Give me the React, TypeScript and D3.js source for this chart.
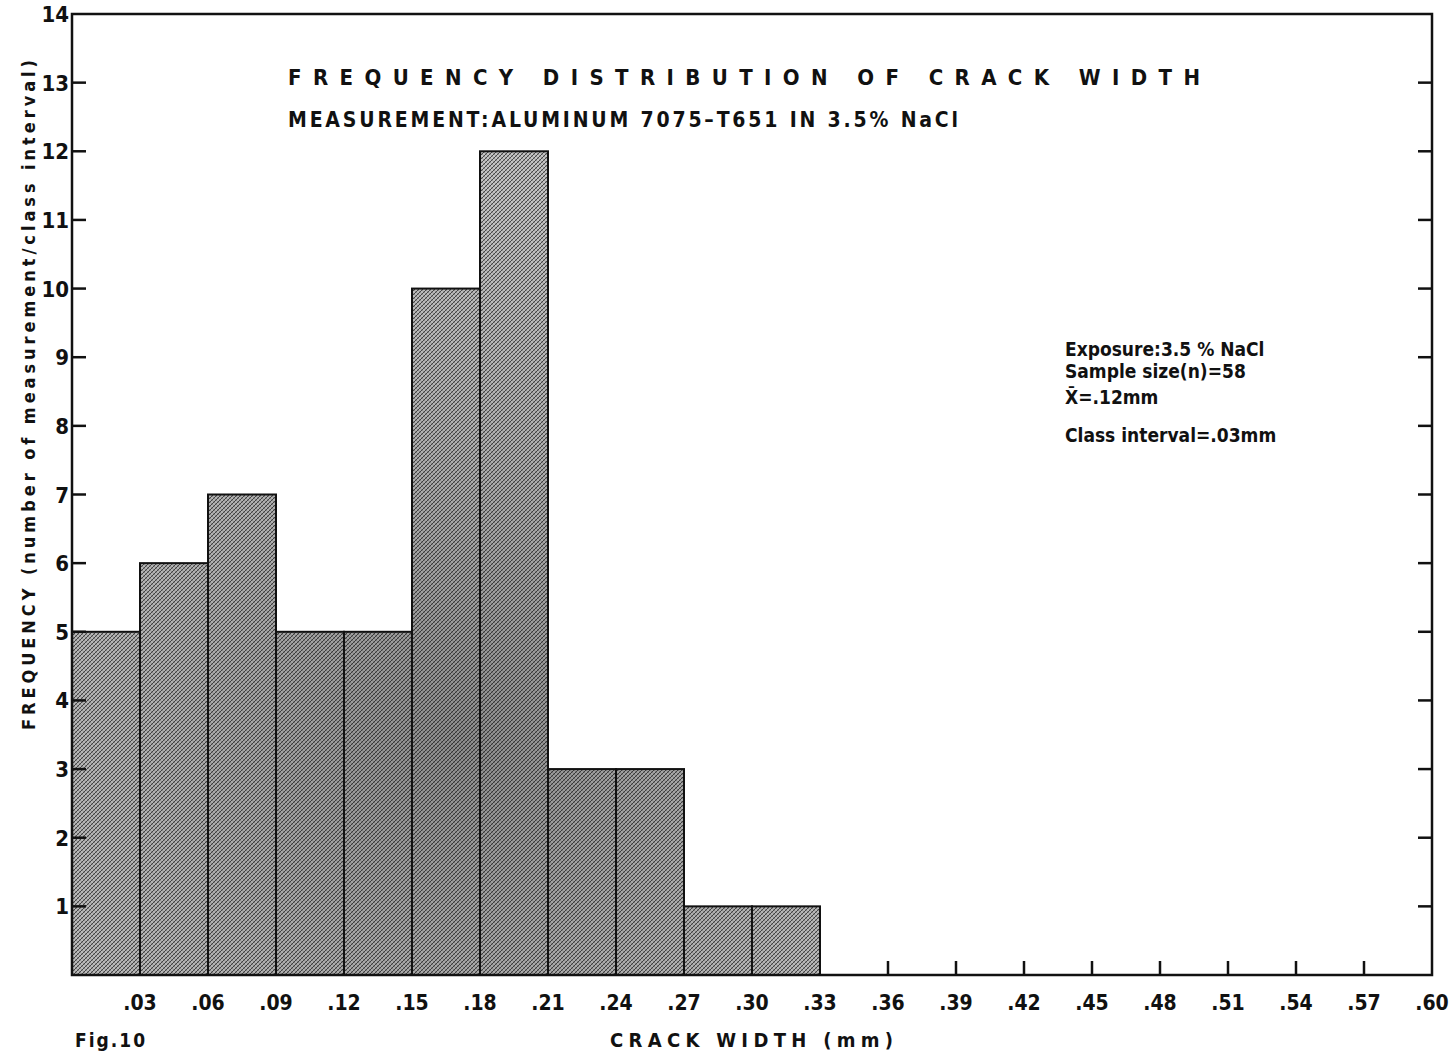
import React from "react";
import * as d3 from "d3";

// crack width histogram, class interval .03 mm
const binLower = [0, 0.03, 0.06, 0.09, 0.12, 0.15, 0.18, 0.21, 0.24, 0.27, 0.3];
const counts = [5, 6, 7, 5, 5, 10, 12, 3, 3, 1, 1];
const xTickLabels = [
  ".03", ".06", ".09", ".12", ".15", ".18", ".21", ".24", ".27", ".30",
  ".33", ".36", ".39", ".42", ".45", ".48", ".51", ".54", ".57", ".60",
];
const yTickValues = [1, 2, 3, 4, 5, 6, 7, 8, 9, 10, 11, 12, 13, 14];
const legendLines = [
  "Exposure:3.5 % NaCl",
  "Sample size(n)=58",
  "X\u0304=.12mm",
  "Class interval=.03mm",
];

const W = 1455;
const H = 1058;
const left = 72;
const right = 1432;
const top = 14;
const bottom = 975;
const binWidth = 0.03;

const FONT = "'DejaVu Sans', sans-serif";

const App: React.FC = () => {
  const x = d3.scaleLinear().domain([0, 0.6]).range([left, right]);
  const y = d3.scaleLinear().domain([0, 14]).range([bottom, top]);

  const bars = binLower.map((b, i) => ({ x0: b, x1: b + binWidth, n: counts[i] }));
  const tickVals = xTickLabels.map((t) => +t);

  const txt = { fontFamily: FONT, fontWeight: "bold" as const, fontStretch: "condensed", fill: "#111" };

  return (
    <svg width={W} height={H} style={{ position: "absolute", left: 0, top: 0, background: "#fff" }}>
      <defs>
        <pattern id="hatch" width="4" height="4" patternUnits="userSpaceOnUse">
          <rect width="4" height="4" fill="#c4c4c4" />
          <path d="M-1,1 l2,-2 M0,4 l4,-4 M3,5 l2,-2" stroke="#333" strokeWidth="0.85" />
          <path d="M-1,3 l2,2 M0,0 l4,4 M3,-1 l2,2" stroke="#555" strokeWidth="0.4" />
        </pattern>
        <radialGradient id="shade" cx="460" cy="740" r="560" gradientUnits="userSpaceOnUse">
          <stop offset="0%" stopColor="#000" stopOpacity="0.28" />
          <stop offset="55%" stopColor="#000" stopOpacity="0.1" />
          <stop offset="100%" stopColor="#000" stopOpacity="0" />
        </radialGradient>
      </defs>

      {/* bars */}
      {bars.map((d, i) => (
        <g key={i}>
          <rect
            x={x(d.x0)}
            y={y(d.n)}
            width={x(d.x1) - x(d.x0)}
            height={bottom - y(d.n)}
            fill="url(#hatch)"
          />
          <rect
            x={x(d.x0)}
            y={y(d.n)}
            width={x(d.x1) - x(d.x0)}
            height={bottom - y(d.n)}
            fill="url(#shade)"
            stroke="#111"
            strokeWidth={2}
          />
        </g>
      ))}

      {/* frame */}
      <rect x={left} y={top} width={right - left} height={bottom - top} fill="none" stroke="#111" strokeWidth={2.5} />

      {/* left ticks + labels */}
      {yTickValues.map((v) => (
        <g key={v}>
          {v < 14 && <line x1={left} x2={left + 14} y1={y(v)} y2={y(v)} stroke="#111" strokeWidth={2.5} />}
          {v < 14 && <line x1={right - 14} x2={right} y1={y(v)} y2={y(v)} stroke="#111" strokeWidth={2.5} />}
          <text x={left - 3} y={y(v) + 8} textAnchor="end" fontSize={22} {...txt}>
            {v}
          </text>
        </g>
      ))}

      {/* bottom ticks + labels */}
      {tickVals.map((v, i) => (
        <g key={i}>
          {v > 0.331 && v < 0.59 && (
            <line x1={x(v)} x2={x(v)} y1={bottom} y2={bottom - 14} stroke="#111" strokeWidth={2.5} />
          )}
          <text x={x(v)} y={bottom + 35} textAnchor="middle" fontSize={21} {...txt}>
            {xTickLabels[i]}
          </text>
        </g>
      ))}

      {/* titles */}
      <text x={288} y={85} textLength={912} lengthAdjust="spacing" fontSize={22} {...txt}>
        FREQUENCY DISTRIBUTION OF CRACK WIDTH
      </text>
      <text x={288} y={127} textLength={670} lengthAdjust="spacing" fontSize={21} {...txt}>
        MEASUREMENT:ALUMINUM 7075–T651 IN 3.5% NaCl
      </text>

      {/* legend box text */}
      {legendLines.map((t, i) => (
        <text key={i} x={1065} y={[356, 378, 404, 442][i]} fontSize={19} {...txt}>
          {t}
        </text>
      ))}

      {/* axis titles */}
      <text
        transform={`translate(35, ${395}) rotate(-90)`}
        textAnchor="middle"
        textLength={670}
        lengthAdjust="spacing"
        fontSize={18}
        {...txt}
      >
        FREQUENCY (number of measurement/class interval)
      </text>
      <text x={610} y={1047} textLength={283} lengthAdjust="spacing" fontSize={20} {...txt}>
        CRACK WIDTH (mm)
      </text>
      <text x={75} y={1047} fontSize={19} letterSpacing={2} {...txt}>
        Fig.10
      </text>
    </svg>
  );
};

export default App;
